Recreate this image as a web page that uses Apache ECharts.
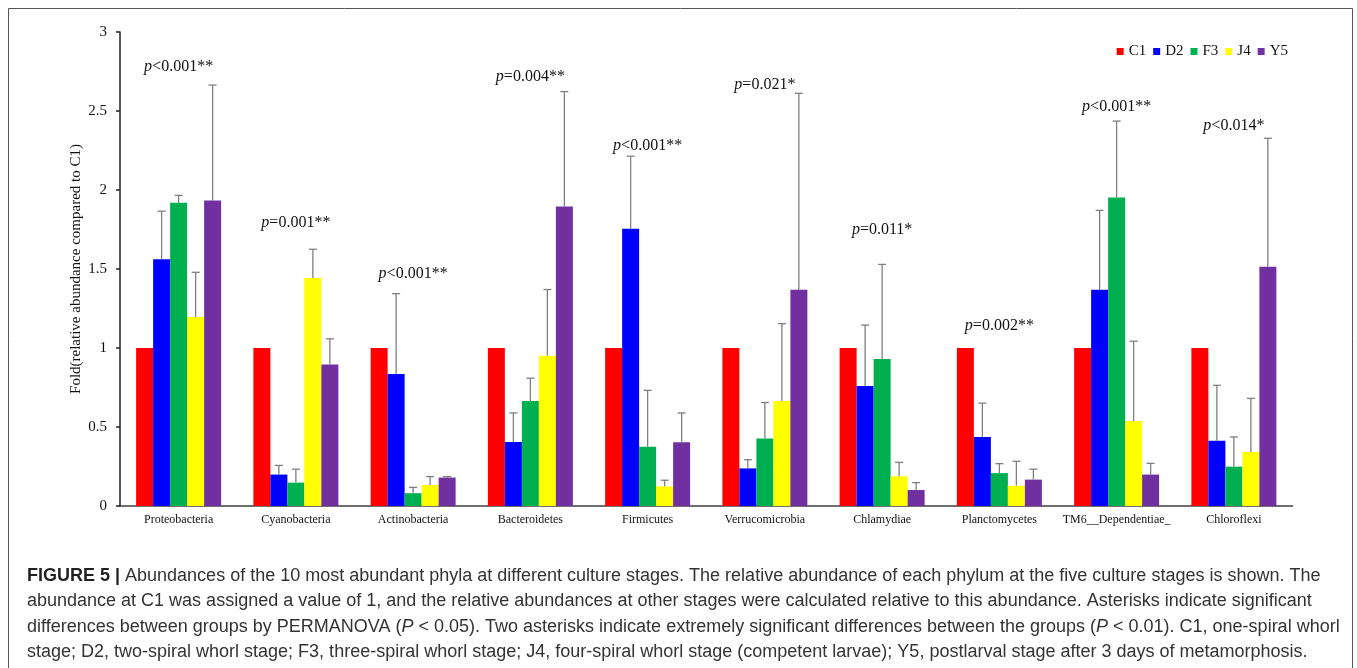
<!DOCTYPE html>
<html>
<head>
<meta charset="utf-8">
<script src="https://cdn.jsdelivr.net/npm/echarts@6/dist/echarts.min.js"></script>
<style>
html,body{margin:0;padding:0;background:#fff;}
#chart{width:1357px;height:668px;}
</style>
</head>
<body>
<div id="chart"></div>
<script>
const categories = ['Proteobacteria','Cyanobacteria','Actinobacteria','Bacteroidetes','Firmicutes','Verrucomicrobia','Chlamydiae','Planctomycetes','TM6__Dependentiae_','Chloroflexi'];
const seriesNames = ['C1','D2','F3','J4','Y5'];
const colors = ['#FF0000','#0000FF','#00B050','#FFFF00','#7030A0'];

const C1 = [1,1,1,1,1,1,1,1,1,1];
const D2 = [1.562,0.199,0.835,0.405,1.755,0.238,0.760,0.437,1.368,0.413];
const F3 = [1.919,0.148,0.081,0.664,0.375,0.428,0.931,0.208,1.952,0.249];
const J4 = [1.196,1.443,0.133,0.951,0.124,0.664,0.188,0.128,0.538,0.342];
const Y5 = [1.934,0.895,0.180,1.895,0.403,1.368,0.101,0.167,0.199,1.514];

const C1sd = [0,0,0,0,0,0,0,0,0,0];
const D2sd = [0.304,0.058,0.509,0.184,0.459,0.055,0.385,0.214,0.503,0.351];
const F3sd = [0.047,0.085,0.037,0.145,0.357,0.227,0.598,0.060,0.484,0.188];
const J4sd = [0.283,0.182,0.053,0.419,0.039,0.490,0.088,0.155,0.505,0.339];
const Y5sd = [0.730,0.163,0.006,0.728,0.186,1.244,0.047,0.066,0.071,0.813];

const pLabels = ['p<0.001**','p=0.001**','p<0.001**','p=0.004**','p<0.001**','p=0.021*','p=0.011*','p=0.002**','p<0.001**','p<0.014*'];
const pLabelY = [2.78,1.79,1.47,2.715,2.28,2.665,1.745,1.14,2.525,2.405];

const yTicks = {min:0, max:3, interval:0.5};

const captionLines = [
  '{b|FIGURE 5 |} Abundances of the 10 most abundant phyla at different culture stages. The relative abundance of each phylum at the five culture stages is shown. The',
  'abundance at C1 was assigned a value of 1, and the relative abundances at other stages were calculated relative to this abundance. Asterisks indicate significant',
  'differences between groups by PERMANOVA ({i|P} < 0.05). Two asterisks indicate extremely significant differences between the groups ({i|P} < 0.01). C1, one-spiral whorl',
  'stage; D2, two-spiral whorl stage; F3, three-spiral whorl stage; J4, four-spiral whorl stage (competent larvae); Y5, postlarval stage after 3 days of metamorphosis.'
];

const values = [C1,D2,F3,J4,Y5];
const sds = [C1sd,D2sd,F3sd,J4sd,Y5sd];
const BAR_W = 17;
const serif = "'Liberation Serif','Times New Roman',serif";
const sans = "'Liberation Sans Narrow','Arial Narrow','Liberation Sans',sans-serif";

const chart = echarts.init(document.getElementById('chart'), null, {renderer:'canvas'});

const barSeries = seriesNames.map((n,i)=>({
  name:n, type:'bar', data:values[i], barWidth:BAR_W, barGap:'0%',
  itemStyle:{color:colors[i]}, animation:false, z:2
}));

const errSeries = seriesNames.map((n,i)=>({
  type:'custom', name:n+'_err', z:3, animation:false, silent:true,
  data: values[i].map((v,k)=>[k, v, v + sds[i][k]]),
  renderItem:(params, api)=>{
    const k = api.value(0);
    const lo = api.coord([k, api.value(1)]);
    const hi = api.coord([k, api.value(2)]);
    if (api.value(2) - api.value(1) <= 0) return null;
    const x = lo[0] + (i-2)*BAR_W;
    const style = {stroke:'#7f7f7f', lineWidth:1.3};
    return {type:'group', children:[
      {type:'line', shape:{x1:x,y1:lo[1],x2:x,y2:hi[1]}, style},
      {type:'line', shape:{x1:x-4,y1:hi[1],x2:x+4,y2:hi[1]}, style}
    ]};
  }
}));

const annSeries = {
  type:'custom', name:'pvals', z:4, animation:false, silent:true,
  data: pLabels.map((t,k)=>[k, pLabelY[k]]),
  renderItem:(params, api)=>{
    const k = api.value(0);
    const p = api.coord([k, api.value(1)]);
    const t = pLabels[k];
    return {type:'text', style:{
      text:'{i|p}' + t.slice(1), x:p[0], y:p[1], align:'center', verticalAlign:'middle',
      fontFamily:serif, fontSize:16, fill:'#111',
      rich:{i:{fontStyle:'italic', fontFamily:serif, fontSize:16, fill:'#111'}}
    }};
  }
};

const graphics = [
  {type:'rect', shape:{x:8.5,y:8.5,width:1344,height:700}, style:{fill:'none', stroke:'#555', lineWidth:1}, z:0, silent:true}
];
const lineY = [576, 601.5, 627, 652.5];
captionLines.forEach((t,j)=>{
  graphics.push({type:'text', x:27, y:lineY[j], z:10, silent:true,
    style:{text:t, fontFamily:sans, fontSize:18, fill:'#333', verticalAlign:'middle', align:'left',
      rich:{b:{fontWeight:'bold', fill:'#231f20', fontFamily:sans, fontSize:18},
            i:{fontStyle:'italic', fill:'#333', fontFamily:sans, fontSize:18}}}
  });
});

chart.setOption({
  animation:false,
  backgroundColor:'#fff',
  grid:{left:120, right:64.5, top:32, bottom:162, containLabel:false},
  legend:{
    data:seriesNames, right:64, top:39, icon:'rect', itemWidth:7, itemHeight:7, itemGap:7,
    textStyle:{fontFamily:serif, fontSize:15, color:'#111'}
  },
  xAxis:{
    type:'category', data:categories,
    axisLine:{lineStyle:{color:'#404040', width:1.5}},
    axisTick:{show:false},
    axisLabel:{fontFamily:serif, fontSize:12, color:'#111', margin:8, interval:0}
  },
  yAxis:{
    type:'value', min:yTicks.min, max:yTicks.max, interval:yTicks.interval,
    name:'Fold(relative abundance compared to C1)', nameLocation:'middle', nameGap:36,
    nameMoveOverlap:false,
    nameTextStyle:{fontFamily:serif, fontSize:15, color:'#111'},
    axisLine:{show:true, lineStyle:{color:'#222', width:1.5}},
    axisTick:{show:true, length:4, lineStyle:{color:'#222', width:1.5}},
    axisLabel:{fontFamily:serif, fontSize:15, color:'#111', margin:13},
    splitLine:{show:false}
  },
  graphic:graphics,
  series:[...barSeries, ...errSeries, annSeries]
});
</script>
</body>
</html>
